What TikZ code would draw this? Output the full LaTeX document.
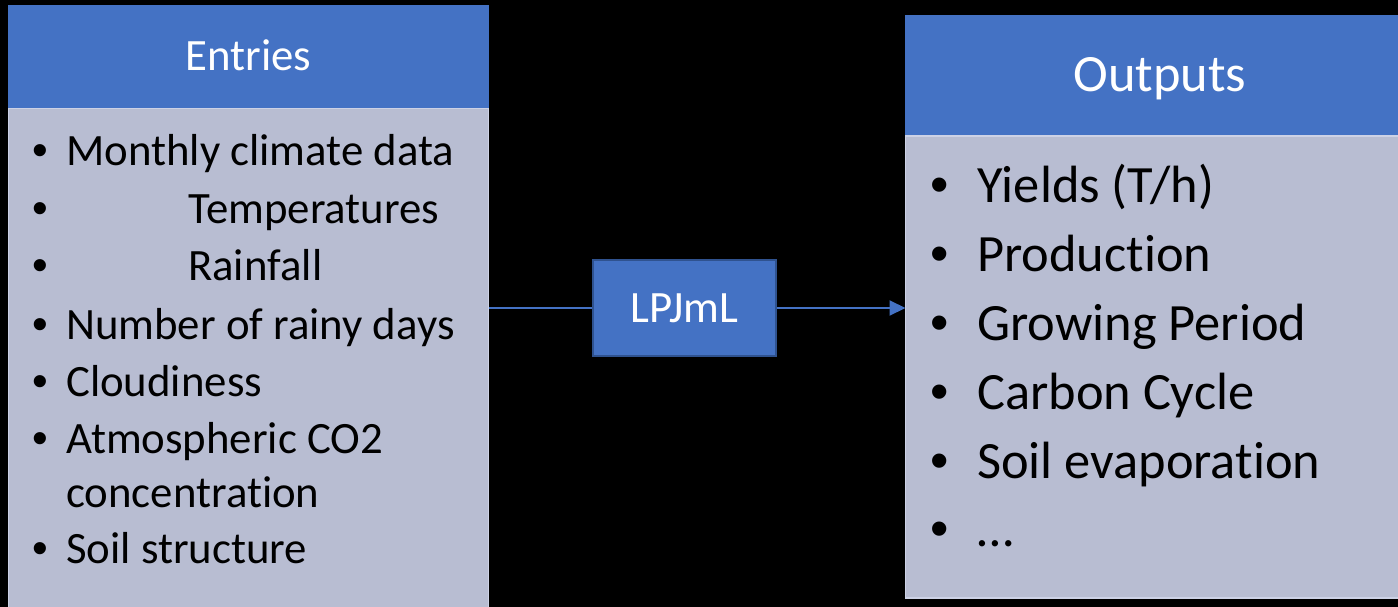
\documentclass[tikz,border=0pt]{standalone}
\usepackage{fontspec}
\setmainfont[Ligatures=NoCommon]{Carlito}
\newfontfamily\puce{Liberation Sans}
\usetikzlibrary{arrows.meta}
\definecolor{entete}{HTML}{4472C4}
\definecolor{corps}{HTML}{B8BDD2}
\definecolor{bordcorps}{HTML}{CDD2E6}
\definecolor{bordmodele}{HTML}{2F528F}
\tikzset{
  boite/.style={inner sep=0pt, outer sep=0pt, anchor=north west},
  petit/.style={font=\fontsize{44.8}{54}\selectfont, inner sep=0pt},
  grand/.style={font=\fontsize{52.4}{63}\selectfont, inner sep=0pt},
}
\begin{document}
\begin{tikzpicture}[x=1pt,y=-1pt]
  \pgfmathsetmacro{\puceg}{40}
  \pgfmathsetmacro{\puced}{940}
  \pgfmathsetmacro{\texteg}{66}
  \pgfmathsetmacro{\retrait}{188}
  \pgfmathsetmacro{\texted}{977}
  \fill[black] (0,0) rectangle (1398,607);
  \useasboundingbox (0,0) rectangle (1398,607);
  % boites
  \node[boite, fill=entete, minimum width=481, minimum height=103] (enteteE) at (8,5) {};
  \node[boite, fill=corps, draw=bordcorps, line width=1.5pt, minimum width=480, minimum height=515] (corpsE) at (8.5,108.5) {};
  \node[boite, fill=entete, minimum width=510, minimum height=121] (enteteS) at (905,15) {};
  \node[boite, fill=corps, draw=bordcorps, line width=1.5pt, minimum width=510, minimum height=462] (corpsS) at (905.5,136) {};
  \node[petit, white, anchor=base] (titreE) at (248.5,71) {Entries};
  \node[grand, white, anchor=base] (titreS) at (1160,92) {Outputs};
  % entrees
  \foreach \nom/\y/\x/\t in {e1/166/\texteg/Monthly climate data, e2/223/\retrait/Temperatures,
      e3/280/\retrait/Rainfall, e4/339/\texteg/Number of rainy days, e5/396/\texteg/Cloudiness,
      e6/453/\texteg/Atmospheric CO2, e7/563/\texteg/Soil structure}
  {
    \node[petit, anchor=base] (p\nom) at (\puceg,\y) {\puce •};
    \node[petit, anchor=base west] (\nom) at (\x,\y) {\t};
  }
  \node[petit, anchor=base west] (e6b) at (\texteg,507) {concentration};
  % sorties
  \foreach \nom/\y/\t in {s1/203/{Yields (T/h)}, s2/271/Production, s3/340/Growing Period,
      s4/409/Carbon Cycle, s5/478/Soil evaporation, s6/546/…}
  {
    \node[grand, anchor=base] (p\nom) at (\puced,\y) {\puce •};
    \node[grand, anchor=base west] (\nom) at (\texted,\y) {\t};
  }
  % modele
  \node[fill=entete, draw=bordmodele, line width=2pt, minimum width=183, minimum height=96,
    inner sep=0pt, petit, text=white] (modele) at (684.5,308) {LPJmL};
  \draw[entete, line width=1.2pt] (corpsE.east |- modele.west) -- (modele.west);
  \draw[entete, line width=2pt, -{Triangle[length=16pt, width=15pt]}] (modele.east) -- (modele.east -| corpsS.west);
\end{tikzpicture}
\end{document}
